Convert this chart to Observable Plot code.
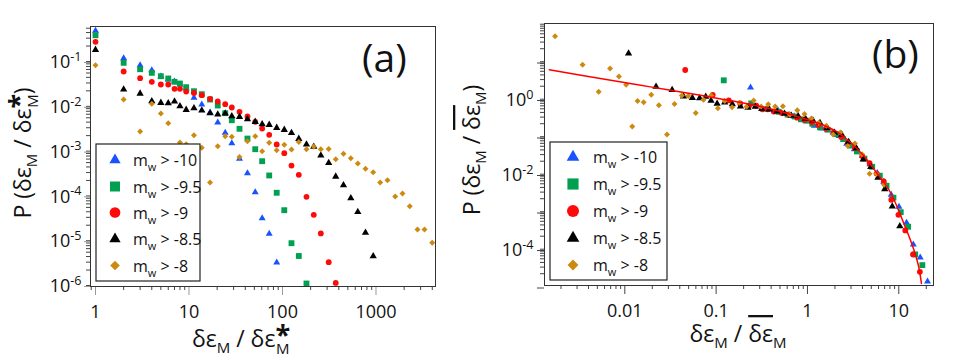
<!DOCTYPE html>
<html>
<head>
<meta charset="utf-8">
<script src="https://cdn.jsdelivr.net/npm/d3@7"></script>
<script src="https://cdn.jsdelivr.net/npm/@observablehq/plot@0.6"></script>
<style>
  body { margin: 0; background: #fff; }
  #wrap { position: relative; width: 979px; height: 361px; overflow: hidden; background: #fff; }
  #wrap svg { position: absolute; left: 0; top: 0; }
  text { white-space: pre; }
</style>
</head>
<body>
<div id="wrap"></div>
<script>
// ---------------- data ----------------
const thresholds = ["-10", "-9.5", "-9", "-8.5", "-8"];
const colors = ["#1a52ff", "#00a050", "#ff0a0a", "#000000", "#cc8a10"];
const symbolNames = ["triangle", "square", "circle", "triangle", "diamond2"];

// bin centres of delta-eps_M / delta-eps*_M (panel a)
const xA = [1, 2, 3, 4, 5, 6, 7, 8, 9.33, 11.3, 13.7, 16.8, 20.3, 24.4, 28.7, 34.7, 42.2, 51.1, 60.6, 72.1,
            86.7, 104.5, 124.8, 149.4, 180.5, 216, 257, 312, 371, 449, 538, 639, 772, 934, 1109, 1328, 1604,
            1920, 2297, 2778, 3302, 3993];

const yBlue = [0.438, 0.107, 0.0746, 0.0577, 0.0418, 0.0358, 0.0323, 0.0277, 0.0225, 0.01396, 0.0099, 0.00657,
               0.00393, 0.00231, 0.001355, 0.000607, 0.00029, 0.000109, 2.87e-5, 1.29e-5, 2.94e-6];
const yGreen = [0.348, 0.0844, 0.0607, 0.0504, 0.0424, 0.0377, 0.0318, 0.0291, 0.0241, 0.0196, 0.0168, 0.0128,
                0.0094, 0.00633, 0.00441, 0.00284, 0.00172, 0.000995, 0.000537, 0.000258, 0.000106, 4.33e-5,
                7.94e-6, 4.11e-6, 1.0e-6];
const yRed = [0.248, 0.054, 0.0383, 0.0318, 0.0277, 0.0277, 0.0222, 0.0222, 0.0193, 0.0179, 0.016, 0.01327,
              0.01155, 0.01005, 0.00849, 0.00681, 0.00535, 0.00407, 0.00288, 0.00208, 0.00127, 0.00081, 0.00043,
              0.000267, 8.6e-5, 3.41e-5, 1.31e-5, 2.99e-6, 1.03e-6];
const yBlack = [0.165, 0.0214, 0.0174, 0.01173, 0.0108, 0.0106, 0.01155, 0.00908, 0.00754, 0.00818, 0.00728,
                0.00633, 0.00592, 0.00623, 0.00542, 0.00526, 0.00465, 0.00407, 0.00359, 0.00349, 0.00299, 0.0027,
                0.00231, 0.0017, 0.00127, 0.00113, 0.00072, 0.00049, 0.000244, 0.000156, 8.0e-5, 3.98e-5,
                1.37e-5, 4.06e-6];
const yGold = [0.0746, 0.0128, 0.00247, 0.01026, 0.00624, 0.00379, 0.00029, 0.0014, 0.00129, 0.00204, 0.00107,
               0.000179, 0.00116, 0.00194, 0.00188, 0.000667, 0.0015, 0.00194, 0.000897, 0.00138, 0.000944,
               0.00125, 0.00098, 0.00144, 0.000995, 0.00114, 0.000995, 0.001, 0.000596, 0.000785, 0.000627,
               0.000477, 0.000363, 0.000305, 0.000179, 0.000202, 8.75e-5, 0.000102, 5.31e-5, 1.6e-5, 1.6e-5,
               8.09e-6];

// mean ratio (delta-eps*_M -> mean delta-eps_M) per series
const meanRatio = [4.2, 8.25, 21.8, 91, 580];

// red fitted curve of panel (b)
const fitX = [0.00149, 0.0054, 0.0191, 0.0673, 0.1435, 0.306, 0.506, 0.838, 1.388, 2.03, 2.96, 4.10, 5.70,
              8.11, 11.25, 14.1, 16.4, 17.7];
const fitY = [5.48, 3.21, 1.92, 1.14, 0.832, 0.575, 0.423, 0.293, 0.197, 0.128, 0.0631, 0.0284, 0.01,
              0.00293, 0.000464, 0.000113, 3.31e-5, 1.1e-5];

// axes
const xMajorA = [1, 10, 100, 1000];
const yMajorA = [1e-1, 1e-2, 1e-3, 1e-4, 1e-5, 1e-6];
const xMajorB = [0.01, 0.1, 1, 10];
const yMajorB = [1e1, 1, 1e-1, 1e-2, 1e-3, 1e-4, 1e-5];
const yLabelledB = [0, -2, -4];

const xDomA = [0.884, 4330], yDomA = [8.57e-7, 0.546];
const xDomB = [0.00132, 24], yDomB = [9.7e-6, 94];

// ---------------- build tables ----------------
const ySeries = [yBlue, yGreen, yRed, yBlack, yGold];
const rowsA = ySeries.map(ys => ys.map((y, i) => (y == null ? null : {x: xA[i], y})).filter(Boolean));
const rowsB = rowsA.map((rows, s) => rows
  .map(d => ({x: d.x / meanRatio[s], y: d.y * meanRatio[s]}))
  .filter(d => d.y >= yDomB[0] && d.y <= yDomB[1] && d.x >= xDomB[0] && d.x <= xDomB[1]));
const fitRows = fitX.map((x, i) => ({x, y: fitY[i]}));

function minorTicks(dom) {
  const out = [];
  const k0 = Math.floor(Math.log10(dom[0])), k1 = Math.ceil(Math.log10(dom[1]));
  for (let k = k0; k <= k1; k++) for (let m = 2; m <= 9; m++) {
    const v = m * Math.pow(10, k);
    if (v >= dom[0] && v <= dom[1]) out.push(v);
  }
  return out;
}
const exp10 = d => Math.round(Math.log10(d));
const dotR = [2.6, 3.3, 2.9, 2.7, 2.7];

function dots(rowsList) {
  return rowsList.map((rows, s) => Plot.dot(rows, {
    x: "x", y: "y", symbol: symbolNames[s], fill: colors[s], r: dotR[s], stroke: "none"
  }));
}

const W = 979, H = 361;
const common = {
  width: W, height: H,
  style: {fontFamily: "'Open Sans', sans-serif", fontSize: "18px", color: "#111", background: "transparent", overflow: "visible"}
};

const svgA = Plot.plot({
  ...common,
  marginLeft: 90, marginRight: W - 435, marginTop: 26, marginBottom: H - 286,
  x: {type: "log", domain: xDomA},
  y: {type: "log", domain: yDomA},
  marks: [
    Plot.axisY(minorTicks(yDomA), {anchor: "left", tickSize: 4, tickFormat: () => "", label: null, stroke: "#444"}),
    Plot.axisY(yMajorA, {anchor: "left", tickSize: 6, tickPadding: 3, dy: 3, tickFormat: d => "10^" + exp10(d), label: null, stroke: "#999"}),
    Plot.axisX(minorTicks(xDomA), {anchor: "bottom", tickSize: 4, tickFormat: () => "", label: null, stroke: "#444"}),
    Plot.axisX(xMajorA, {anchor: "bottom", tickSize: 9, tickPadding: 10, tickFormat: d => String(d), label: null, stroke: "#999"}),
    ...dots(rowsA),
    Plot.frame({stroke: "#333"})
  ]
});

const svgB = Plot.plot({
  ...common,
  marginLeft: 544, marginRight: W - 933, marginTop: 23, marginBottom: H - 285,
  x: {type: "log", domain: xDomB},
  y: {type: "log", domain: yDomB},
  marks: [
    Plot.axisY(minorTicks(yDomB), {anchor: "left", tickSize: 4, tickFormat: () => "", label: null, stroke: "#444"}),
    Plot.axisY(yMajorB, {anchor: "left", tickSize: 7, tickPadding: 4, dy: 3,
      tickFormat: d => (yLabelledB.includes(exp10(d)) ? "10^" + exp10(d) : ""), label: null, stroke: "#444"}),
    Plot.axisX(minorTicks(xDomB), {anchor: "bottom", tickSize: 4, tickFormat: () => "", label: null, stroke: "#444"}),
    Plot.axisX(xMajorB, {anchor: "bottom", tickSize: 9, tickPadding: 10, tickFormat: d => String(d), label: null, stroke: "#444"}),
    ...dots(rowsB),
    Plot.line(fitRows, {x: "x", y: "y", stroke: "#ff0000", strokeWidth: 1.5, curve: "catmull-rom"}),
    Plot.frame({stroke: "#333"})
  ]
});

const wrap = document.getElementById("wrap");
wrap.appendChild(svgA);
wrap.appendChild(svgB);

// superscript exponents on tick labels
for (const svg of [svgA, svgB]) {
  d3.select(svg).selectAll("text").each(function () {
    const t = this.textContent;
    if (t.includes("^")) {
      const [b, e] = t.split("^");
      const s = d3.select(this);
      s.text(null);
      s.append("tspan").text(b);
      s.append("tspan").attr("dy", "-0.6em").attr("font-size", "0.7em").text(e);
    }
  });
}

// ---------------- rich text helpers ----------------
const FONT = "'Open Sans', sans-serif";
function richText(svg, {x, y, rotate = 0, size, anchor = "middle", parts}) {
  const t = d3.select(svg).append("text")
    .attr("font-family", FONT).attr("font-size", size).attr("text-anchor", anchor).attr("fill", "#111")
    .attr("transform", `translate(${x},${y}) rotate(${rotate})`);
  for (const p of parts) {
    const ts = t.append("tspan").text(p.t);
    if (p.dy) ts.attr("dy", p.dy);
    if (p.dx) ts.attr("dx", p.dx);
    if (p.size) ts.attr("font-size", p.size);
    if (p.bold) ts.attr("font-weight", "bold");
    if (p.over) ts.style("text-decoration", "overline");
  }
  return t;
}
const SUB = 15;
const starParts = [
  {t: "*", size: 27, bold: true, dy: -3},
  {t: "M", size: SUB, dx: -14, dy: 10},
];
// panel (a) labels
richText(svgA, {x: 241, y: 347, size: 23, parts: [
  {t: "δε"}, {t: "M", size: SUB, dy: 6}, {t: " / δε", dy: -6}, ...starParts
]});
richText(svgA, {x: 31, y: 153, rotate: -90, size: 23, parts: [
  {t: "P (δε"}, {t: "M", size: SUB, dy: 6}, {t: " / δε", dy: -6}, ...starParts, {t: ")", dy: -7}
]});
richText(svgA, {x: 362, y: 72, size: 39, anchor: "start", parts: [{t: "(a)"}]});

// panel (b) labels
richText(svgB, {x: 738, y: 342, size: 23, parts: [
  {t: "δε"}, {t: "M", size: SUB, dy: 6}, {t: " / ", dy: -6}, {t: "δε", over: true}, {t: "M", size: SUB, dy: 6}
]});
richText(svgB, {x: 480, y: 150, rotate: -90, size: 23, parts: [
  {t: "P (δε"}, {t: "M", size: SUB, dy: 6}, {t: " / ", dy: -6}, {t: "δε", over: true},
  {t: "M", size: SUB, dy: 6}, {t: ")", dy: -6}
]});
richText(svgB, {x: 872, y: 68, size: 39, anchor: "start", parts: [{t: "(b)"}]});

// ---------------- legends ----------------
const d3Sym = {
  triangle: d3.symbolTriangle, square: d3.symbolSquare, circle: d3.symbolCircle,
  diamond2: d3.symbolDiamond2 || d3.symbolDiamond
};
function legend(svg, {x, y, w, h, symX, textX, rows, scale}) {
  const g = d3.select(svg).append("g").attr("text-anchor", "start");
  g.append("rect").attr("x", x).attr("y", y).attr("width", w).attr("height", h)
    .attr("fill", "#fff").attr("stroke", "#222").attr("stroke-width", 1.2);
  const sizes = {triangle: 55, square: 100, circle: 90, diamond2: 60};
  thresholds.forEach((th, i) => {
    const name = symbolNames[i];
    g.append("path")
      .attr("d", d3.symbol().type(d3Sym[name]).size(sizes[name] * scale)())
      .attr("transform", `translate(${symX},${rows[i]})`)
      .attr("fill", colors[i]);
    const t = g.append("text").attr("x", textX).attr("y", rows[i] + 6)
      .attr("text-anchor", "start")
      .attr("font-family", FONT).attr("font-size", 16).attr("fill", "#111");
    t.append("tspan").text("m");
    t.append("tspan").attr("font-size", 11).attr("dy", 5).text("w");
    t.append("tspan").attr("dy", -5).text(" > " + th);
  });
}
legend(svgA, {x: 96, y: 144, w: 104, h: 137, symX: 115, textX: 133, rows: [160, 186.5, 212.5, 239, 265.5], scale: 1});
legend(svgB, {x: 550, y: 142, w: 117, h: 138, symX: 573, textX: 593, rows: [157, 184, 211, 238, 265], scale: 1.25});
</script>
</body>
</html>
